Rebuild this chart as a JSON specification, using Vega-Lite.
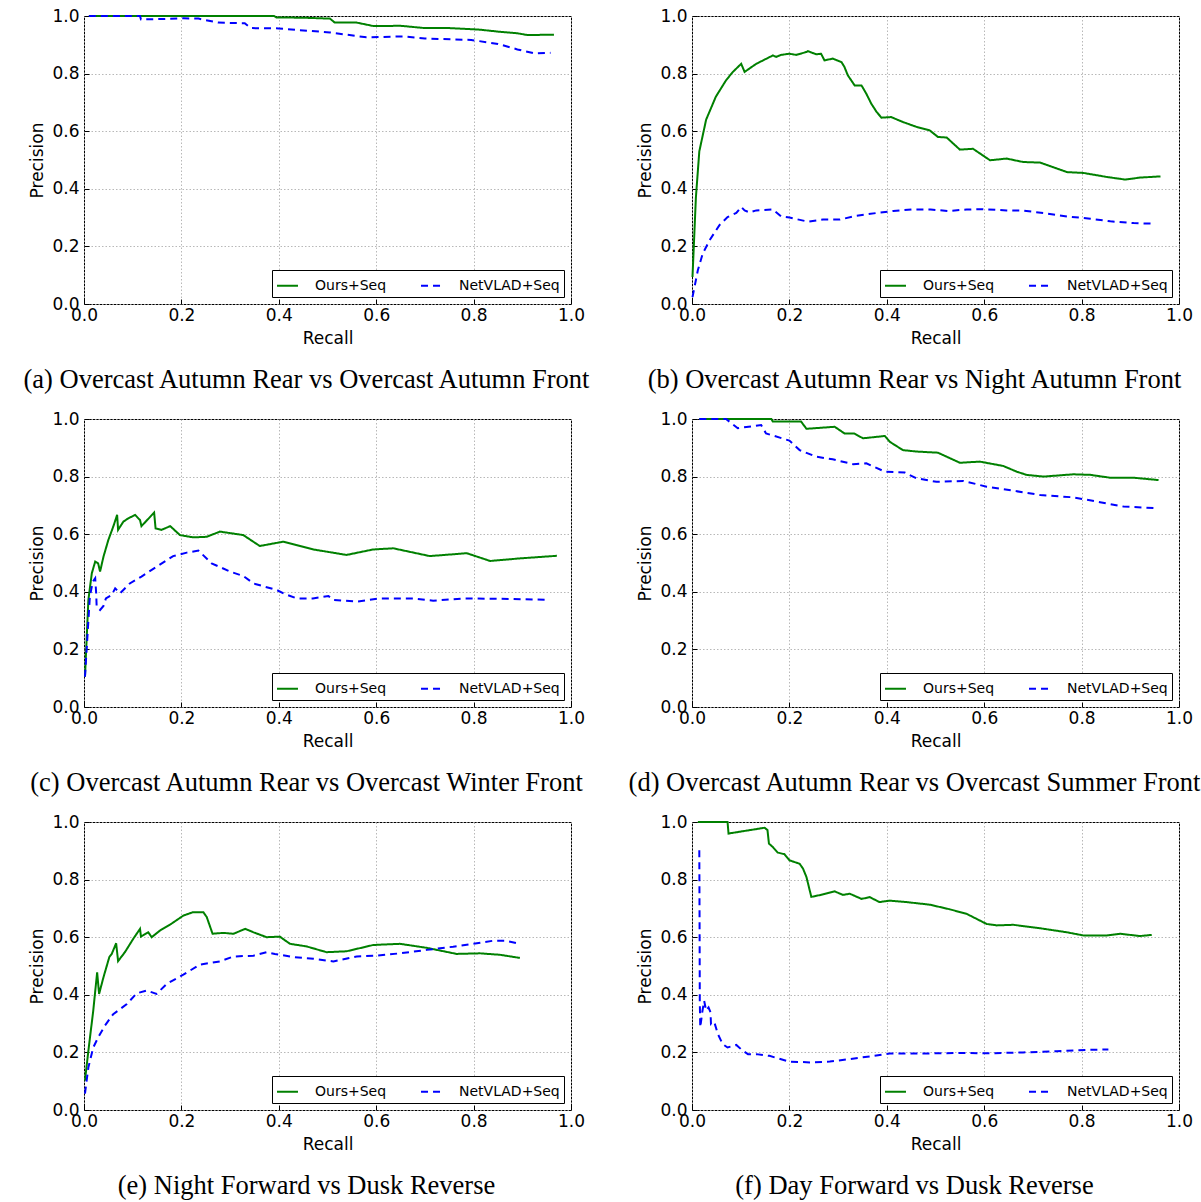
{
"$schema":"https://vega.github.io/schema/vega-lite/v6.json",
"padding":{"left":21,"top":6,"right":0,"bottom":0},
"background":"white",
"config":{
 "view":{"stroke":"black","strokeWidth":1},
 "title":{"font":"Liberation Serif","fontSize":26.5,"fontWeight":"normal","color":"black","orient":"bottom","anchor":"middle","dx":-21,"offset":21},
 "axis":{"labelFont":"DejaVu Sans","labelFontSize":17,"labelColor":"black","titleFont":"DejaVu Sans","titleFontSize":17,"titleFontWeight":"normal","titleColor":"black","domain":false,"tickColor":"black","tickSize":-5,"grid":true,"gridColor":"#b0b0b0","gridDash":[1.5,2],"gridWidth":0.9,"labelOverlap":false,"labelFlush":false},
 "axisX":{"labelPadding":8,"titlePadding":7},
 "axisY":{"labelPadding":10,"titlePadding":5},
 "legend":{"orient":"bottom-right","offset":7,"direction":"horizontal","strokeColor":"black","fillColor":"white","padding":4,"cornerRadius":0,"labelFont":"DejaVu Sans","labelFontSize":14,"labelColor":"black","labelOffset":16,"labelLimit":300,"symbolType":"stroke","symbolSize":440,"symbolStrokeWidth":2,"columnPadding":30}
},
"data":{"values":[
{"p":"a","s":"Ours+Seq","r":0.01,"v":1.0},{"p":"a","s":"Ours+Seq","r":0.2,"v":1.0},{"p":"a","s":"Ours+Seq","r":0.39,"v":1.0},{"p":"a","s":"Ours+Seq","r":0.395,"v":0.995},{"p":"a","s":"Ours+Seq","r":0.45,"v":0.994},{"p":"a","s":"Ours+Seq","r":0.505,"v":0.991},{"p":"a","s":"Ours+Seq","r":0.515,"v":0.977},{"p":"a","s":"Ours+Seq","r":0.56,"v":0.977},{"p":"a","s":"Ours+Seq","r":0.595,"v":0.965},{"p":"a","s":"Ours+Seq","r":0.65,"v":0.966},{"p":"a","s":"Ours+Seq","r":0.7,"v":0.958},{"p":"a","s":"Ours+Seq","r":0.75,"v":0.958},{"p":"a","s":"Ours+Seq","r":0.81,"v":0.953},{"p":"a","s":"Ours+Seq","r":0.855,"v":0.945},{"p":"a","s":"Ours+Seq","r":0.89,"v":0.94},{"p":"a","s":"Ours+Seq","r":0.91,"v":0.934},{"p":"a","s":"Ours+Seq","r":0.965,"v":0.935},
{"p":"a","s":"NetVLAD+Seq","r":0.01,"v":1.0},{"p":"a","s":"NetVLAD+Seq","r":0.115,"v":1.0},{"p":"a","s":"NetVLAD+Seq","r":0.117,"v":0.988},{"p":"a","s":"NetVLAD+Seq","r":0.17,"v":0.99},{"p":"a","s":"NetVLAD+Seq","r":0.205,"v":0.992},{"p":"a","s":"NetVLAD+Seq","r":0.235,"v":0.991},{"p":"a","s":"NetVLAD+Seq","r":0.275,"v":0.977},{"p":"a","s":"NetVLAD+Seq","r":0.33,"v":0.975},{"p":"a","s":"NetVLAD+Seq","r":0.342,"v":0.958},{"p":"a","s":"NetVLAD+Seq","r":0.4,"v":0.957},{"p":"a","s":"NetVLAD+Seq","r":0.44,"v":0.951},{"p":"a","s":"NetVLAD+Seq","r":0.505,"v":0.943},{"p":"a","s":"NetVLAD+Seq","r":0.58,"v":0.926},{"p":"a","s":"NetVLAD+Seq","r":0.655,"v":0.929},{"p":"a","s":"NetVLAD+Seq","r":0.7,"v":0.922},{"p":"a","s":"NetVLAD+Seq","r":0.795,"v":0.917},{"p":"a","s":"NetVLAD+Seq","r":0.85,"v":0.903},{"p":"a","s":"NetVLAD+Seq","r":0.89,"v":0.884},{"p":"a","s":"NetVLAD+Seq","r":0.925,"v":0.87},{"p":"a","s":"NetVLAD+Seq","r":0.958,"v":0.872},
{"p":"b","s":"Ours+Seq","r":0.001,"v":0.094},{"p":"b","s":"Ours+Seq","r":0.008,"v":0.37},{"p":"b","s":"Ours+Seq","r":0.015,"v":0.53},{"p":"b","s":"Ours+Seq","r":0.029,"v":0.64},{"p":"b","s":"Ours+Seq","r":0.049,"v":0.72},{"p":"b","s":"Ours+Seq","r":0.07,"v":0.777},{"p":"b","s":"Ours+Seq","r":0.084,"v":0.806},{"p":"b","s":"Ours+Seq","r":0.101,"v":0.834},{"p":"b","s":"Ours+Seq","r":0.108,"v":0.806},{"p":"b","s":"Ours+Seq","r":0.132,"v":0.834},{"p":"b","s":"Ours+Seq","r":0.166,"v":0.863},{"p":"b","s":"Ours+Seq","r":0.173,"v":0.858},{"p":"b","s":"Ours+Seq","r":0.183,"v":0.865},{"p":"b","s":"Ours+Seq","r":0.2,"v":0.869},{"p":"b","s":"Ours+Seq","r":0.214,"v":0.865},{"p":"b","s":"Ours+Seq","r":0.235,"v":0.875},{"p":"b","s":"Ours+Seq","r":0.238,"v":0.878},{"p":"b","s":"Ours+Seq","r":0.255,"v":0.867},{"p":"b","s":"Ours+Seq","r":0.265,"v":0.869},{"p":"b","s":"Ours+Seq","r":0.272,"v":0.846},{"p":"b","s":"Ours+Seq","r":0.289,"v":0.852},{"p":"b","s":"Ours+Seq","r":0.307,"v":0.84},{"p":"b","s":"Ours+Seq","r":0.313,"v":0.823},{"p":"b","s":"Ours+Seq","r":0.32,"v":0.794},{"p":"b","s":"Ours+Seq","r":0.334,"v":0.759},{"p":"b","s":"Ours+Seq","r":0.348,"v":0.759},{"p":"b","s":"Ours+Seq","r":0.358,"v":0.73},{"p":"b","s":"Ours+Seq","r":0.368,"v":0.696},{"p":"b","s":"Ours+Seq","r":0.379,"v":0.667},{"p":"b","s":"Ours+Seq","r":0.389,"v":0.647},{"p":"b","s":"Ours+Seq","r":0.409,"v":0.649},{"p":"b","s":"Ours+Seq","r":0.433,"v":0.632},{"p":"b","s":"Ours+Seq","r":0.461,"v":0.615},{"p":"b","s":"Ours+Seq","r":0.488,"v":0.603},{"p":"b","s":"Ours+Seq","r":0.505,"v":0.58},{"p":"b","s":"Ours+Seq","r":0.523,"v":0.578},{"p":"b","s":"Ours+Seq","r":0.55,"v":0.536},{"p":"b","s":"Ours+Seq","r":0.577,"v":0.539},{"p":"b","s":"Ours+Seq","r":0.612,"v":0.499},{"p":"b","s":"Ours+Seq","r":0.646,"v":0.505},{"p":"b","s":"Ours+Seq","r":0.68,"v":0.493},{"p":"b","s":"Ours+Seq","r":0.715,"v":0.491},{"p":"b","s":"Ours+Seq","r":0.77,"v":0.458},{"p":"b","s":"Ours+Seq","r":0.804,"v":0.455},{"p":"b","s":"Ours+Seq","r":0.852,"v":0.441},{"p":"b","s":"Ours+Seq","r":0.89,"v":0.432},{"p":"b","s":"Ours+Seq","r":0.92,"v":0.439},{"p":"b","s":"Ours+Seq","r":0.962,"v":0.443},
{"p":"b","s":"NetVLAD+Seq","r":0.001,"v":0.024},{"p":"b","s":"NetVLAD+Seq","r":0.012,"v":0.117},{"p":"b","s":"NetVLAD+Seq","r":0.022,"v":0.175},{"p":"b","s":"NetVLAD+Seq","r":0.036,"v":0.221},{"p":"b","s":"NetVLAD+Seq","r":0.056,"v":0.273},{"p":"b","s":"NetVLAD+Seq","r":0.073,"v":0.302},{"p":"b","s":"NetVLAD+Seq","r":0.091,"v":0.316},{"p":"b","s":"NetVLAD+Seq","r":0.101,"v":0.337},{"p":"b","s":"NetVLAD+Seq","r":0.108,"v":0.325},{"p":"b","s":"NetVLAD+Seq","r":0.118,"v":0.318},{"p":"b","s":"NetVLAD+Seq","r":0.132,"v":0.325},{"p":"b","s":"NetVLAD+Seq","r":0.166,"v":0.328},{"p":"b","s":"NetVLAD+Seq","r":0.183,"v":0.304},{"p":"b","s":"NetVLAD+Seq","r":0.2,"v":0.3},{"p":"b","s":"NetVLAD+Seq","r":0.238,"v":0.286},{"p":"b","s":"NetVLAD+Seq","r":0.269,"v":0.293},{"p":"b","s":"NetVLAD+Seq","r":0.303,"v":0.293},{"p":"b","s":"NetVLAD+Seq","r":0.337,"v":0.306},{"p":"b","s":"NetVLAD+Seq","r":0.379,"v":0.316},{"p":"b","s":"NetVLAD+Seq","r":0.413,"v":0.323},{"p":"b","s":"NetVLAD+Seq","r":0.451,"v":0.328},{"p":"b","s":"NetVLAD+Seq","r":0.49,"v":0.328},{"p":"b","s":"NetVLAD+Seq","r":0.526,"v":0.323},{"p":"b","s":"NetVLAD+Seq","r":0.564,"v":0.328},{"p":"b","s":"NetVLAD+Seq","r":0.598,"v":0.329},{"p":"b","s":"NetVLAD+Seq","r":0.646,"v":0.325},{"p":"b","s":"NetVLAD+Seq","r":0.68,"v":0.324},{"p":"b","s":"NetVLAD+Seq","r":0.722,"v":0.316},{"p":"b","s":"NetVLAD+Seq","r":0.77,"v":0.304},{"p":"b","s":"NetVLAD+Seq","r":0.818,"v":0.296},{"p":"b","s":"NetVLAD+Seq","r":0.859,"v":0.287},{"p":"b","s":"NetVLAD+Seq","r":0.907,"v":0.281},{"p":"b","s":"NetVLAD+Seq","r":0.944,"v":0.279},
{"p":"c","s":"Ours+Seq","r":0.002,"v":0.105},{"p":"c","s":"Ours+Seq","r":0.009,"v":0.372},{"p":"c","s":"Ours+Seq","r":0.016,"v":0.464},{"p":"c","s":"Ours+Seq","r":0.023,"v":0.505},{"p":"c","s":"Ours+Seq","r":0.029,"v":0.499},{"p":"c","s":"Ours+Seq","r":0.033,"v":0.47},{"p":"c","s":"Ours+Seq","r":0.04,"v":0.522},{"p":"c","s":"Ours+Seq","r":0.05,"v":0.58},{"p":"c","s":"Ours+Seq","r":0.06,"v":0.626},{"p":"c","s":"Ours+Seq","r":0.068,"v":0.667},{"p":"c","s":"Ours+Seq","r":0.07,"v":0.615},{"p":"c","s":"Ours+Seq","r":0.081,"v":0.644},{"p":"c","s":"Ours+Seq","r":0.091,"v":0.655},{"p":"c","s":"Ours+Seq","r":0.105,"v":0.667},{"p":"c","s":"Ours+Seq","r":0.115,"v":0.649},{"p":"c","s":"Ours+Seq","r":0.118,"v":0.628},{"p":"c","s":"Ours+Seq","r":0.144,"v":0.675},{"p":"c","s":"Ours+Seq","r":0.147,"v":0.62},{"p":"c","s":"Ours+Seq","r":0.159,"v":0.615},{"p":"c","s":"Ours+Seq","r":0.177,"v":0.628},{"p":"c","s":"Ours+Seq","r":0.197,"v":0.597},{"p":"c","s":"Ours+Seq","r":0.224,"v":0.589},{"p":"c","s":"Ours+Seq","r":0.252,"v":0.591},{"p":"c","s":"Ours+Seq","r":0.279,"v":0.609},{"p":"c","s":"Ours+Seq","r":0.327,"v":0.597},{"p":"c","s":"Ours+Seq","r":0.361,"v":0.559},{"p":"c","s":"Ours+Seq","r":0.409,"v":0.574},{"p":"c","s":"Ours+Seq","r":0.471,"v":0.547},{"p":"c","s":"Ours+Seq","r":0.539,"v":0.528},{"p":"c","s":"Ours+Seq","r":0.594,"v":0.547},{"p":"c","s":"Ours+Seq","r":0.635,"v":0.551},{"p":"c","s":"Ours+Seq","r":0.71,"v":0.524},{"p":"c","s":"Ours+Seq","r":0.786,"v":0.534},{"p":"c","s":"Ours+Seq","r":0.834,"v":0.507},{"p":"c","s":"Ours+Seq","r":0.895,"v":0.516},{"p":"c","s":"Ours+Seq","r":0.971,"v":0.525},
{"p":"c","s":"NetVLAD+Seq","r":0.002,"v":0.105},{"p":"c","s":"NetVLAD+Seq","r":0.012,"v":0.383},{"p":"c","s":"NetVLAD+Seq","r":0.018,"v":0.435},{"p":"c","s":"NetVLAD+Seq","r":0.023,"v":0.447},{"p":"c","s":"NetVLAD+Seq","r":0.025,"v":0.395},{"p":"c","s":"NetVLAD+Seq","r":0.026,"v":0.348},{"p":"c","s":"NetVLAD+Seq","r":0.033,"v":0.337},{"p":"c","s":"NetVLAD+Seq","r":0.04,"v":0.351},{"p":"c","s":"NetVLAD+Seq","r":0.045,"v":0.377},{"p":"c","s":"NetVLAD+Seq","r":0.057,"v":0.389},{"p":"c","s":"NetVLAD+Seq","r":0.064,"v":0.412},{"p":"c","s":"NetVLAD+Seq","r":0.074,"v":0.395},{"p":"c","s":"NetVLAD+Seq","r":0.094,"v":0.429},{"p":"c","s":"NetVLAD+Seq","r":0.118,"v":0.453},{"p":"c","s":"NetVLAD+Seq","r":0.149,"v":0.487},{"p":"c","s":"NetVLAD+Seq","r":0.183,"v":0.524},{"p":"c","s":"NetVLAD+Seq","r":0.211,"v":0.536},{"p":"c","s":"NetVLAD+Seq","r":0.235,"v":0.543},{"p":"c","s":"NetVLAD+Seq","r":0.262,"v":0.499},{"p":"c","s":"NetVLAD+Seq","r":0.3,"v":0.47},{"p":"c","s":"NetVLAD+Seq","r":0.327,"v":0.455},{"p":"c","s":"NetVLAD+Seq","r":0.348,"v":0.429},{"p":"c","s":"NetVLAD+Seq","r":0.396,"v":0.406},{"p":"c","s":"NetVLAD+Seq","r":0.413,"v":0.392},{"p":"c","s":"NetVLAD+Seq","r":0.437,"v":0.377},{"p":"c","s":"NetVLAD+Seq","r":0.47,"v":0.377},{"p":"c","s":"NetVLAD+Seq","r":0.502,"v":0.385},{"p":"c","s":"NetVLAD+Seq","r":0.512,"v":0.372},{"p":"c","s":"NetVLAD+Seq","r":0.56,"v":0.366},{"p":"c","s":"NetVLAD+Seq","r":0.608,"v":0.377},{"p":"c","s":"NetVLAD+Seq","r":0.676,"v":0.377},{"p":"c","s":"NetVLAD+Seq","r":0.717,"v":0.369},{"p":"c","s":"NetVLAD+Seq","r":0.779,"v":0.377},{"p":"c","s":"NetVLAD+Seq","r":0.882,"v":0.375},{"p":"c","s":"NetVLAD+Seq","r":0.953,"v":0.372},
{"p":"d","s":"Ours+Seq","r":0.015,"v":1.0},{"p":"d","s":"Ours+Seq","r":0.163,"v":1.0},{"p":"d","s":"Ours+Seq","r":0.166,"v":0.991},{"p":"d","s":"Ours+Seq","r":0.224,"v":0.991},{"p":"d","s":"Ours+Seq","r":0.235,"v":0.966},{"p":"d","s":"Ours+Seq","r":0.293,"v":0.973},{"p":"d","s":"Ours+Seq","r":0.313,"v":0.95},{"p":"d","s":"Ours+Seq","r":0.333,"v":0.95},{"p":"d","s":"Ours+Seq","r":0.351,"v":0.933},{"p":"d","s":"Ours+Seq","r":0.396,"v":0.941},{"p":"d","s":"Ours+Seq","r":0.406,"v":0.921},{"p":"d","s":"Ours+Seq","r":0.433,"v":0.892},{"p":"d","s":"Ours+Seq","r":0.461,"v":0.887},{"p":"d","s":"Ours+Seq","r":0.505,"v":0.883},{"p":"d","s":"Ours+Seq","r":0.55,"v":0.848},{"p":"d","s":"Ours+Seq","r":0.591,"v":0.852},{"p":"d","s":"Ours+Seq","r":0.639,"v":0.837},{"p":"d","s":"Ours+Seq","r":0.667,"v":0.817},{"p":"d","s":"Ours+Seq","r":0.687,"v":0.806},{"p":"d","s":"Ours+Seq","r":0.722,"v":0.8},{"p":"d","s":"Ours+Seq","r":0.783,"v":0.808},{"p":"d","s":"Ours+Seq","r":0.818,"v":0.806},{"p":"d","s":"Ours+Seq","r":0.859,"v":0.796},{"p":"d","s":"Ours+Seq","r":0.907,"v":0.796},{"p":"d","s":"Ours+Seq","r":0.958,"v":0.788},
{"p":"d","s":"NetVLAD+Seq","r":0.015,"v":1.0},{"p":"d","s":"NetVLAD+Seq","r":0.07,"v":1.0},{"p":"d","s":"NetVLAD+Seq","r":0.094,"v":0.968},{"p":"d","s":"NetVLAD+Seq","r":0.142,"v":0.979},{"p":"d","s":"NetVLAD+Seq","r":0.152,"v":0.95},{"p":"d","s":"NetVLAD+Seq","r":0.2,"v":0.925},{"p":"d","s":"NetVLAD+Seq","r":0.221,"v":0.892},{"p":"d","s":"NetVLAD+Seq","r":0.255,"v":0.869},{"p":"d","s":"NetVLAD+Seq","r":0.289,"v":0.86},{"p":"d","s":"NetVLAD+Seq","r":0.331,"v":0.843},{"p":"d","s":"NetVLAD+Seq","r":0.358,"v":0.846},{"p":"d","s":"NetVLAD+Seq","r":0.396,"v":0.817},{"p":"d","s":"NetVLAD+Seq","r":0.437,"v":0.814},{"p":"d","s":"NetVLAD+Seq","r":0.461,"v":0.794},{"p":"d","s":"NetVLAD+Seq","r":0.502,"v":0.782},{"p":"d","s":"NetVLAD+Seq","r":0.557,"v":0.785},{"p":"d","s":"NetVLAD+Seq","r":0.605,"v":0.765},{"p":"d","s":"NetVLAD+Seq","r":0.66,"v":0.751},{"p":"d","s":"NetVLAD+Seq","r":0.715,"v":0.736},{"p":"d","s":"NetVLAD+Seq","r":0.783,"v":0.728},{"p":"d","s":"NetVLAD+Seq","r":0.838,"v":0.711},{"p":"d","s":"NetVLAD+Seq","r":0.886,"v":0.696},{"p":"d","s":"NetVLAD+Seq","r":0.948,"v":0.691},
{"p":"e","s":"Ours+Seq","r":0.002,"v":0.102},{"p":"e","s":"Ours+Seq","r":0.009,"v":0.206},{"p":"e","s":"Ours+Seq","r":0.019,"v":0.345},{"p":"e","s":"Ours+Seq","r":0.027,"v":0.478},{"p":"e","s":"Ours+Seq","r":0.031,"v":0.403},{"p":"e","s":"Ours+Seq","r":0.04,"v":0.461},{"p":"e","s":"Ours+Seq","r":0.052,"v":0.531},{"p":"e","s":"Ours+Seq","r":0.057,"v":0.542},{"p":"e","s":"Ours+Seq","r":0.066,"v":0.579},{"p":"e","s":"Ours+Seq","r":0.07,"v":0.517},{"p":"e","s":"Ours+Seq","r":0.084,"v":0.548},{"p":"e","s":"Ours+Seq","r":0.101,"v":0.594},{"p":"e","s":"Ours+Seq","r":0.115,"v":0.629},{"p":"e","s":"Ours+Seq","r":0.117,"v":0.602},{"p":"e","s":"Ours+Seq","r":0.132,"v":0.617},{"p":"e","s":"Ours+Seq","r":0.139,"v":0.6},{"p":"e","s":"Ours+Seq","r":0.156,"v":0.623},{"p":"e","s":"Ours+Seq","r":0.177,"v":0.644},{"p":"e","s":"Ours+Seq","r":0.204,"v":0.675},{"p":"e","s":"Ours+Seq","r":0.224,"v":0.687},{"p":"e","s":"Ours+Seq","r":0.245,"v":0.687},{"p":"e","s":"Ours+Seq","r":0.252,"v":0.67},{"p":"e","s":"Ours+Seq","r":0.264,"v":0.612},{"p":"e","s":"Ours+Seq","r":0.286,"v":0.615},{"p":"e","s":"Ours+Seq","r":0.307,"v":0.612},{"p":"e","s":"Ours+Seq","r":0.331,"v":0.629},{"p":"e","s":"Ours+Seq","r":0.348,"v":0.617},{"p":"e","s":"Ours+Seq","r":0.375,"v":0.6},{"p":"e","s":"Ours+Seq","r":0.402,"v":0.602},{"p":"e","s":"Ours+Seq","r":0.423,"v":0.577},{"p":"e","s":"Ours+Seq","r":0.457,"v":0.568},{"p":"e","s":"Ours+Seq","r":0.498,"v":0.548},{"p":"e","s":"Ours+Seq","r":0.539,"v":0.551},{"p":"e","s":"Ours+Seq","r":0.594,"v":0.573},{"p":"e","s":"Ours+Seq","r":0.649,"v":0.577},{"p":"e","s":"Ours+Seq","r":0.704,"v":0.563},{"p":"e","s":"Ours+Seq","r":0.765,"v":0.542},{"p":"e","s":"Ours+Seq","r":0.813,"v":0.544},{"p":"e","s":"Ours+Seq","r":0.854,"v":0.539},{"p":"e","s":"Ours+Seq","r":0.895,"v":0.528},
{"p":"e","s":"NetVLAD+Seq","r":0.002,"v":0.057},{"p":"e","s":"NetVLAD+Seq","r":0.009,"v":0.148},{"p":"e","s":"NetVLAD+Seq","r":0.019,"v":0.217},{"p":"e","s":"NetVLAD+Seq","r":0.029,"v":0.252},{"p":"e","s":"NetVLAD+Seq","r":0.043,"v":0.293},{"p":"e","s":"NetVLAD+Seq","r":0.06,"v":0.333},{"p":"e","s":"NetVLAD+Seq","r":0.07,"v":0.345},{"p":"e","s":"NetVLAD+Seq","r":0.088,"v":0.368},{"p":"e","s":"NetVLAD+Seq","r":0.108,"v":0.405},{"p":"e","s":"NetVLAD+Seq","r":0.129,"v":0.415},{"p":"e","s":"NetVLAD+Seq","r":0.149,"v":0.403},{"p":"e","s":"NetVLAD+Seq","r":0.17,"v":0.438},{"p":"e","s":"NetVLAD+Seq","r":0.204,"v":0.47},{"p":"e","s":"NetVLAD+Seq","r":0.238,"v":0.505},{"p":"e","s":"NetVLAD+Seq","r":0.279,"v":0.516},{"p":"e","s":"NetVLAD+Seq","r":0.307,"v":0.533},{"p":"e","s":"NetVLAD+Seq","r":0.348,"v":0.536},{"p":"e","s":"NetVLAD+Seq","r":0.375,"v":0.548},{"p":"e","s":"NetVLAD+Seq","r":0.392,"v":0.542},{"p":"e","s":"NetVLAD+Seq","r":0.43,"v":0.531},{"p":"e","s":"NetVLAD+Seq","r":0.471,"v":0.525},{"p":"e","s":"NetVLAD+Seq","r":0.512,"v":0.516},{"p":"e","s":"NetVLAD+Seq","r":0.56,"v":0.533},{"p":"e","s":"NetVLAD+Seq","r":0.601,"v":0.536},{"p":"e","s":"NetVLAD+Seq","r":0.649,"v":0.544},{"p":"e","s":"NetVLAD+Seq","r":0.704,"v":0.556},{"p":"e","s":"NetVLAD+Seq","r":0.758,"v":0.567},{"p":"e","s":"NetVLAD+Seq","r":0.799,"v":0.577},{"p":"e","s":"NetVLAD+Seq","r":0.841,"v":0.588},{"p":"e","s":"NetVLAD+Seq","r":0.864,"v":0.588},{"p":"e","s":"NetVLAD+Seq","r":0.895,"v":0.577},
{"p":"f","s":"Ours+Seq","r":0.012,"v":1.0},{"p":"f","s":"Ours+Seq","r":0.073,"v":1.0},{"p":"f","s":"Ours+Seq","r":0.075,"v":0.96},{"p":"f","s":"Ours+Seq","r":0.149,"v":0.98},{"p":"f","s":"Ours+Seq","r":0.155,"v":0.972},{"p":"f","s":"Ours+Seq","r":0.158,"v":0.925},{"p":"f","s":"Ours+Seq","r":0.166,"v":0.913},{"p":"f","s":"Ours+Seq","r":0.176,"v":0.894},{"p":"f","s":"Ours+Seq","r":0.19,"v":0.888},{"p":"f","s":"Ours+Seq","r":0.2,"v":0.867},{"p":"f","s":"Ours+Seq","r":0.221,"v":0.855},{"p":"f","s":"Ours+Seq","r":0.228,"v":0.838},{"p":"f","s":"Ours+Seq","r":0.235,"v":0.809},{"p":"f","s":"Ours+Seq","r":0.245,"v":0.74},{"p":"f","s":"Ours+Seq","r":0.262,"v":0.746},{"p":"f","s":"Ours+Seq","r":0.293,"v":0.759},{"p":"f","s":"Ours+Seq","r":0.31,"v":0.747},{"p":"f","s":"Ours+Seq","r":0.324,"v":0.751},{"p":"f","s":"Ours+Seq","r":0.348,"v":0.733},{"p":"f","s":"Ours+Seq","r":0.365,"v":0.739},{"p":"f","s":"Ours+Seq","r":0.385,"v":0.722},{"p":"f","s":"Ours+Seq","r":0.406,"v":0.727},{"p":"f","s":"Ours+Seq","r":0.44,"v":0.722},{"p":"f","s":"Ours+Seq","r":0.488,"v":0.713},{"p":"f","s":"Ours+Seq","r":0.529,"v":0.697},{"p":"f","s":"Ours+Seq","r":0.564,"v":0.681},{"p":"f","s":"Ours+Seq","r":0.605,"v":0.646},{"p":"f","s":"Ours+Seq","r":0.626,"v":0.641},{"p":"f","s":"Ours+Seq","r":0.66,"v":0.643},{"p":"f","s":"Ours+Seq","r":0.715,"v":0.631},{"p":"f","s":"Ours+Seq","r":0.77,"v":0.617},{"p":"f","s":"Ours+Seq","r":0.804,"v":0.606},{"p":"f","s":"Ours+Seq","r":0.852,"v":0.606},{"p":"f","s":"Ours+Seq","r":0.879,"v":0.612},{"p":"f","s":"Ours+Seq","r":0.92,"v":0.604},{"p":"f","s":"Ours+Seq","r":0.944,"v":0.608},
{"p":"f","s":"NetVLAD+Seq","r":0.015,"v":0.902},{"p":"f","s":"NetVLAD+Seq","r":0.0155,"v":0.675},{"p":"f","s":"NetVLAD+Seq","r":0.016,"v":0.374},{"p":"f","s":"NetVLAD+Seq","r":0.017,"v":0.287},{"p":"f","s":"NetVLAD+Seq","r":0.021,"v":0.339},{"p":"f","s":"NetVLAD+Seq","r":0.025,"v":0.379},{"p":"f","s":"NetVLAD+Seq","r":0.029,"v":0.345},{"p":"f","s":"NetVLAD+Seq","r":0.034,"v":0.356},{"p":"f","s":"NetVLAD+Seq","r":0.038,"v":0.339},{"p":"f","s":"NetVLAD+Seq","r":0.039,"v":0.298},{"p":"f","s":"NetVLAD+Seq","r":0.046,"v":0.304},{"p":"f","s":"NetVLAD+Seq","r":0.053,"v":0.264},{"p":"f","s":"NetVLAD+Seq","r":0.063,"v":0.229},{"p":"f","s":"NetVLAD+Seq","r":0.073,"v":0.217},{"p":"f","s":"NetVLAD+Seq","r":0.091,"v":0.226},{"p":"f","s":"NetVLAD+Seq","r":0.104,"v":0.206},{"p":"f","s":"NetVLAD+Seq","r":0.115,"v":0.194},{"p":"f","s":"NetVLAD+Seq","r":0.132,"v":0.194},{"p":"f","s":"NetVLAD+Seq","r":0.159,"v":0.188},{"p":"f","s":"NetVLAD+Seq","r":0.2,"v":0.168},{"p":"f","s":"NetVLAD+Seq","r":0.248,"v":0.165},{"p":"f","s":"NetVLAD+Seq","r":0.283,"v":0.168},{"p":"f","s":"NetVLAD+Seq","r":0.324,"v":0.177},{"p":"f","s":"NetVLAD+Seq","r":0.365,"v":0.186},{"p":"f","s":"NetVLAD+Seq","r":0.406,"v":0.196},{"p":"f","s":"NetVLAD+Seq","r":0.475,"v":0.196},{"p":"f","s":"NetVLAD+Seq","r":0.543,"v":0.198},{"p":"f","s":"NetVLAD+Seq","r":0.612,"v":0.197},{"p":"f","s":"NetVLAD+Seq","r":0.68,"v":0.2},{"p":"f","s":"NetVLAD+Seq","r":0.749,"v":0.204},{"p":"f","s":"NetVLAD+Seq","r":0.818,"v":0.209},{"p":"f","s":"NetVLAD+Seq","r":0.855,"v":0.21}
]},
"columns":2,
"bounds":"flush",
"spacing":{"row":115,"column":121},
"resolve":{"scale":{"color":"independent","strokeDash":"independent"},"legend":{"color":"independent","strokeDash":"independent"}},
"concat":[
{"width":487,"height":288,"title":"(a) Overcast Autumn Rear vs Overcast Autumn Front","transform":[{"filter":"datum.p==='a'"}],"mark":{"type":"line","strokeWidth":2},"encoding":{"x":{"field":"r","type":"quantitative","title":"Recall","scale":{"domain":[0,1],"nice":false},"axis":{"values":[0,0.2,0.4,0.6,0.8,1],"format":".1f"}},"y":{"field":"v","type":"quantitative","title":"Precision","scale":{"domain":[0,1],"nice":false},"axis":{"values":[0,0.2,0.4,0.6,0.8,1],"format":".1f"}},"color":{"field":"s","type":"nominal","scale":{"domain":["Ours+Seq","NetVLAD+Seq"],"range":["#008000","#0000ff"]},"legend":{"title":null}},"strokeDash":{"field":"s","type":"nominal","scale":{"domain":["Ours+Seq","NetVLAD+Seq"],"range":[[1,0],[7,5]]},"legend":{"title":null}}}},
{"width":487,"height":288,"title":"(b) Overcast Autumn Rear vs Night Autumn Front","transform":[{"filter":"datum.p==='b'"}],"mark":{"type":"line","strokeWidth":2},"encoding":{"x":{"field":"r","type":"quantitative","title":"Recall","scale":{"domain":[0,1],"nice":false},"axis":{"values":[0,0.2,0.4,0.6,0.8,1],"format":".1f"}},"y":{"field":"v","type":"quantitative","title":"Precision","scale":{"domain":[0,1],"nice":false},"axis":{"values":[0,0.2,0.4,0.6,0.8,1],"format":".1f"}},"color":{"field":"s","type":"nominal","scale":{"domain":["Ours+Seq","NetVLAD+Seq"],"range":["#008000","#0000ff"]},"legend":{"title":null}},"strokeDash":{"field":"s","type":"nominal","scale":{"domain":["Ours+Seq","NetVLAD+Seq"],"range":[[1,0],[7,5]]},"legend":{"title":null}}}},
{"width":487,"height":288,"title":"(c) Overcast Autumn Rear vs Overcast Winter Front","transform":[{"filter":"datum.p==='c'"}],"mark":{"type":"line","strokeWidth":2},"encoding":{"x":{"field":"r","type":"quantitative","title":"Recall","scale":{"domain":[0,1],"nice":false},"axis":{"values":[0,0.2,0.4,0.6,0.8,1],"format":".1f"}},"y":{"field":"v","type":"quantitative","title":"Precision","scale":{"domain":[0,1],"nice":false},"axis":{"values":[0,0.2,0.4,0.6,0.8,1],"format":".1f"}},"color":{"field":"s","type":"nominal","scale":{"domain":["Ours+Seq","NetVLAD+Seq"],"range":["#008000","#0000ff"]},"legend":{"title":null}},"strokeDash":{"field":"s","type":"nominal","scale":{"domain":["Ours+Seq","NetVLAD+Seq"],"range":[[1,0],[7,5]]},"legend":{"title":null}}}},
{"width":487,"height":288,"title":"(d) Overcast Autumn Rear vs Overcast Summer Front","transform":[{"filter":"datum.p==='d'"}],"mark":{"type":"line","strokeWidth":2},"encoding":{"x":{"field":"r","type":"quantitative","title":"Recall","scale":{"domain":[0,1],"nice":false},"axis":{"values":[0,0.2,0.4,0.6,0.8,1],"format":".1f"}},"y":{"field":"v","type":"quantitative","title":"Precision","scale":{"domain":[0,1],"nice":false},"axis":{"values":[0,0.2,0.4,0.6,0.8,1],"format":".1f"}},"color":{"field":"s","type":"nominal","scale":{"domain":["Ours+Seq","NetVLAD+Seq"],"range":["#008000","#0000ff"]},"legend":{"title":null}},"strokeDash":{"field":"s","type":"nominal","scale":{"domain":["Ours+Seq","NetVLAD+Seq"],"range":[[1,0],[7,5]]},"legend":{"title":null}}}},
{"width":487,"height":288,"title":"(e) Night Forward vs Dusk Reverse","transform":[{"filter":"datum.p==='e'"}],"mark":{"type":"line","strokeWidth":2},"encoding":{"x":{"field":"r","type":"quantitative","title":"Recall","scale":{"domain":[0,1],"nice":false},"axis":{"values":[0,0.2,0.4,0.6,0.8,1],"format":".1f"}},"y":{"field":"v","type":"quantitative","title":"Precision","scale":{"domain":[0,1],"nice":false},"axis":{"values":[0,0.2,0.4,0.6,0.8,1],"format":".1f"}},"color":{"field":"s","type":"nominal","scale":{"domain":["Ours+Seq","NetVLAD+Seq"],"range":["#008000","#0000ff"]},"legend":{"title":null}},"strokeDash":{"field":"s","type":"nominal","scale":{"domain":["Ours+Seq","NetVLAD+Seq"],"range":[[1,0],[7,5]]},"legend":{"title":null}}}},
{"width":487,"height":288,"title":"(f) Day Forward vs Dusk Reverse","transform":[{"filter":"datum.p==='f'"}],"mark":{"type":"line","strokeWidth":2},"encoding":{"x":{"field":"r","type":"quantitative","title":"Recall","scale":{"domain":[0,1],"nice":false},"axis":{"values":[0,0.2,0.4,0.6,0.8,1],"format":".1f"}},"y":{"field":"v","type":"quantitative","title":"Precision","scale":{"domain":[0,1],"nice":false},"axis":{"values":[0,0.2,0.4,0.6,0.8,1],"format":".1f"}},"color":{"field":"s","type":"nominal","scale":{"domain":["Ours+Seq","NetVLAD+Seq"],"range":["#008000","#0000ff"]},"legend":{"title":null}},"strokeDash":{"field":"s","type":"nominal","scale":{"domain":["Ours+Seq","NetVLAD+Seq"],"range":[[1,0],[7,5]]},"legend":{"title":null}}}}
]
}
